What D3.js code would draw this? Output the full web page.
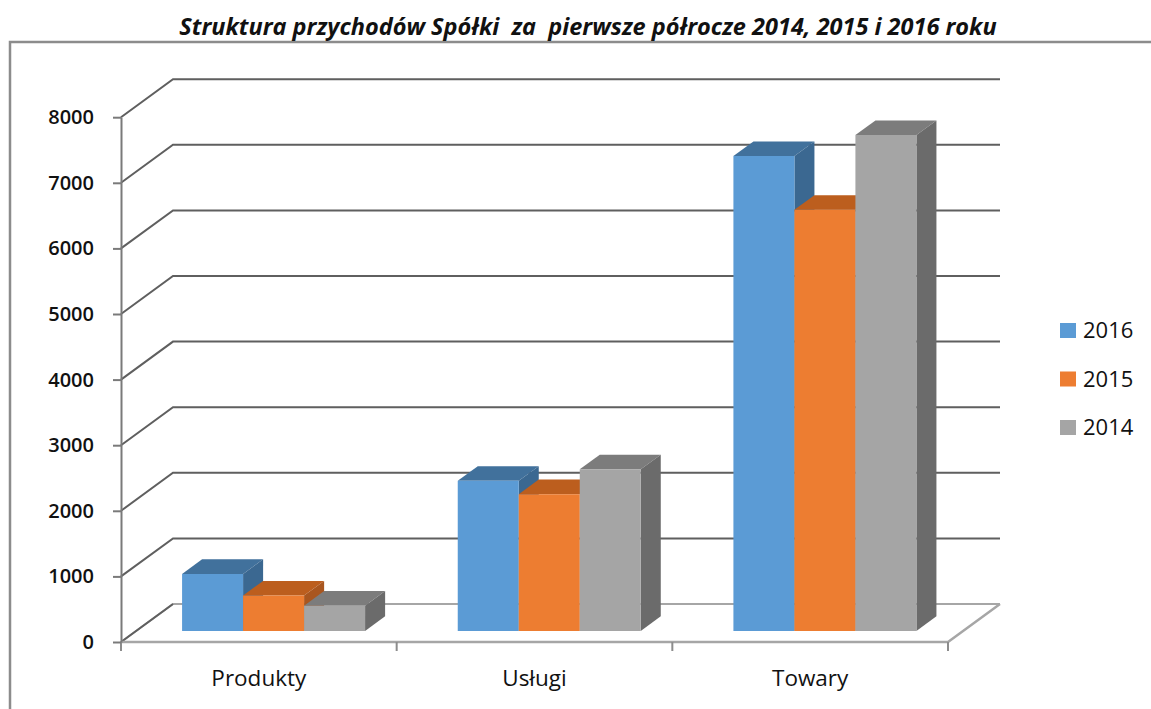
<!DOCTYPE html>
<html>
<head>
<meta charset="utf-8">
<script src="https://cdn.jsdelivr.net/npm/d3@7"></script>
<style>
    body { margin: 0; background: #fff; }
    svg { display: block; }
</style>
</head>
<body>
<div id="chart"></div>
<script>
/* data */
var categories = ["Produkty", "Usługi", "Towary"];
var years = ["2016", "2015", "2014"];
var values2016 = [870, 2290, 7240];
var values2015 = [540, 2085, 6420];
var values2014 = [385, 2465, 7560];
var yTicks = [0, 1000, 2000, 3000, 4000, 5000, 6000, 7000, 8000];

var colors = {
    "2016": { front: "#5B9BD5", top: "#41719C", side: "#3B6891" },
    "2015": { front: "#ED7D31", top: "#BC5E1E", side: "#A9561F" },
    "2014": { front: "#A5A5A5", top: "#7C7C7C", side: "#6B6B6B" }
};

var seriesValues = { "2016": values2016, "2015": values2015, "2014": values2014 };

/*Ploting 3D column chart*/
function plotChart() {
    var width = 1151,
        height = 709;

    // depth of the back wall (screen offset at t = 1)
    var depthX = 52,
        depthY = -38;

    var svg = d3.select("#chart").append("svg")
        .attr("width", width)
        .attr("height", height)
        .style("font-family", "'Open Sans', sans-serif");

    // frame
    svg.append("path")
        .attr("d", "M10," + height + "V42H" + width)
        .attr("fill", "none")
        .attr("stroke", "#8c8c8c")
        .attr("stroke-width", 2.5);

    svg.append("text")
        .attr("x", 588)
        .attr("y", 35)
        .attr("text-anchor", "middle")
        .style("font-size", "23.5px")
        .style("font-weight", "bold")
        .style("font-style", "italic")
        .style("white-space", "pre")
        .attr("fill", "#111")
        .text("Struktura przychodów Spółki  za  pierwsze półrocze 2014, 2015 i 2016 roku");

    var x = d3.scaleBand()
        .domain(categories)
        .range([121, 948]);

    var xSeries = d3.scaleBand()
        .domain(years)
        .range([46, 46 + 183]);

    var y = d3.scaleLinear()
        .domain([0, 8000])
        .range([642, 117.2]);

    function px(xv, t) { return xv + depthX * t; }
    function py(yv, t) { return yv + depthY * t; }

    // back wall gridlines
    var grid = svg.append("g").attr("class", "grid");
    grid.selectAll("path")
        .data(yTicks)
        .enter().append("path")
        .attr("d", function(d) {
            return "M121," + y(d) + "L" + px(121, 1) + "," + py(y(d), 1) + "H1000";
        })
        .attr("fill", "none")
        .attr("stroke", function(d) { return d === 0 ? "#a6a6a6" : "#5f5f5f"; })
        .attr("stroke-width", 2);

    // left diagonal of the floor is dark
    grid.append("path")
        .attr("d", "M121," + y(0) + "L" + px(121, 1) + "," + py(y(0), 1))
        .attr("stroke", "#5f5f5f")
        .attr("stroke-width", 2);

    // floor right edge and front edge
    svg.append("path")
        .attr("d", "M1000," + py(y(0), 1) + "L948," + y(0) + "H121")
        .attr("fill", "none")
        .attr("stroke", "#a6a6a6")
        .attr("stroke-width", 2.5);

    // category boundary ticks
    var bounds = categories.map(function(c) { return x(c); }).concat([x.range()[1]]);
    svg.selectAll(".xtick")
        .data(bounds)
        .enter().append("line")
        .attr("class", "xtick")
        .attr("x1", function(d) { return d; })
        .attr("x2", function(d) { return d; })
        .attr("y1", y(0))
        .attr("y2", y(0) + 9)
        .attr("stroke", "#8c8c8c")
        .attr("stroke-width", 2);

    // y axis
    var yAxis = d3.axisLeft(y)
        .tickValues(yTicks)
        .tickSizeInner(8)
        .tickSizeOuter(0)
        .tickPadding(19)
        .tickFormat(d3.format("d"));

    var gy = svg.append("g")
        .attr("transform", "translate(121,0)")
        .call(yAxis);
    gy.select(".domain").attr("stroke", "#7a7a7a").attr("stroke-width", 2);
    gy.selectAll(".tick line").attr("stroke", "#7a7a7a").attr("stroke-width", 2);
    gy.selectAll(".tick text")
        .style("font-size", "20px")
        .style("font-weight", "600")
        .style("font-family", "'Open Sans', sans-serif")
        .attr("fill", "#111");

    // category labels
    svg.selectAll(".xlabel")
        .data(categories)
        .enter().append("text")
        .attr("class", "xlabel")
        .attr("x", function(d) { return x(d) + x.bandwidth() / 2; })
        .attr("y", 686)
        .attr("text-anchor", "middle")
        .style("font-size", "22.5px")
        .attr("fill", "#111")
        .text(function(d) { return d; });

    // bars
    var t0 = 0.29,
        t1 = 0.675;

    var bars = [];
    categories.forEach(function(c, i) {
        years.forEach(function(yr) {
            bars.push({ cat: c, year: yr, value: seriesValues[yr][i] });
        });
    });

    var bar = svg.selectAll(".bar")
        .data(bars)
        .enter().append("g")
        .attr("class", "bar");

    function poly(pts) {
        return "M" + pts.map(function(p) { return p[0] + "," + p[1]; }).join("L") + "Z";
    }

    bar.append("path")
        .attr("d", function(d) {
            var xl = x(d.cat) + xSeries(d.year),
                xr = xl + xSeries.bandwidth(),
                yt = y(d.value);
            return poly([[px(xl, t0), py(yt, t0)], [px(xr, t0), py(yt, t0)],
                [px(xr, t1), py(yt, t1)], [px(xl, t1), py(yt, t1)]]);
        })
        .attr("fill", function(d) { return colors[d.year].top; });

    bar.append("path")
        .attr("d", function(d) {
            var xr = x(d.cat) + xSeries(d.year) + xSeries.bandwidth(),
                yt = y(d.value),
                yb = y(0);
            return poly([[px(xr, t0), py(yt, t0)], [px(xr, t1), py(yt, t1)],
                [px(xr, t1), py(yb, t1)], [px(xr, t0), py(yb, t0)]]);
        })
        .attr("fill", function(d) { return colors[d.year].side; });

    bar.append("path")
        .attr("d", function(d) {
            var xl = x(d.cat) + xSeries(d.year),
                xr = xl + xSeries.bandwidth(),
                yt = y(d.value),
                yb = y(0);
            return poly([[px(xl, t0), py(yt, t0)], [px(xr, t0), py(yt, t0)],
                [px(xr, t0), py(yb, t0)], [px(xl, t0), py(yb, t0)]]);
        })
        .attr("fill", function(d) { return colors[d.year].front; });

    // legend
    var legend = svg.selectAll(".legend")
        .data(years)
        .enter().append("g")
        .attr("class", "legend")
        .attr("transform", function(d, i) {
            return "translate(1060," + (323 + i * 48.5) + ")";
        });

    legend.append("rect")
        .attr("width", 16)
        .attr("height", 15)
        .attr("fill", function(d) { return colors[d].front; });

    legend.append("text")
        .attr("x", 23)
        .attr("y", 7.5)
        .attr("dy", ".35em")
        .style("font-size", "22px")
        .attr("fill", "#111")
        .text(function(d) { return d; });
}

plotChart();
</script>
</body>
</html>
